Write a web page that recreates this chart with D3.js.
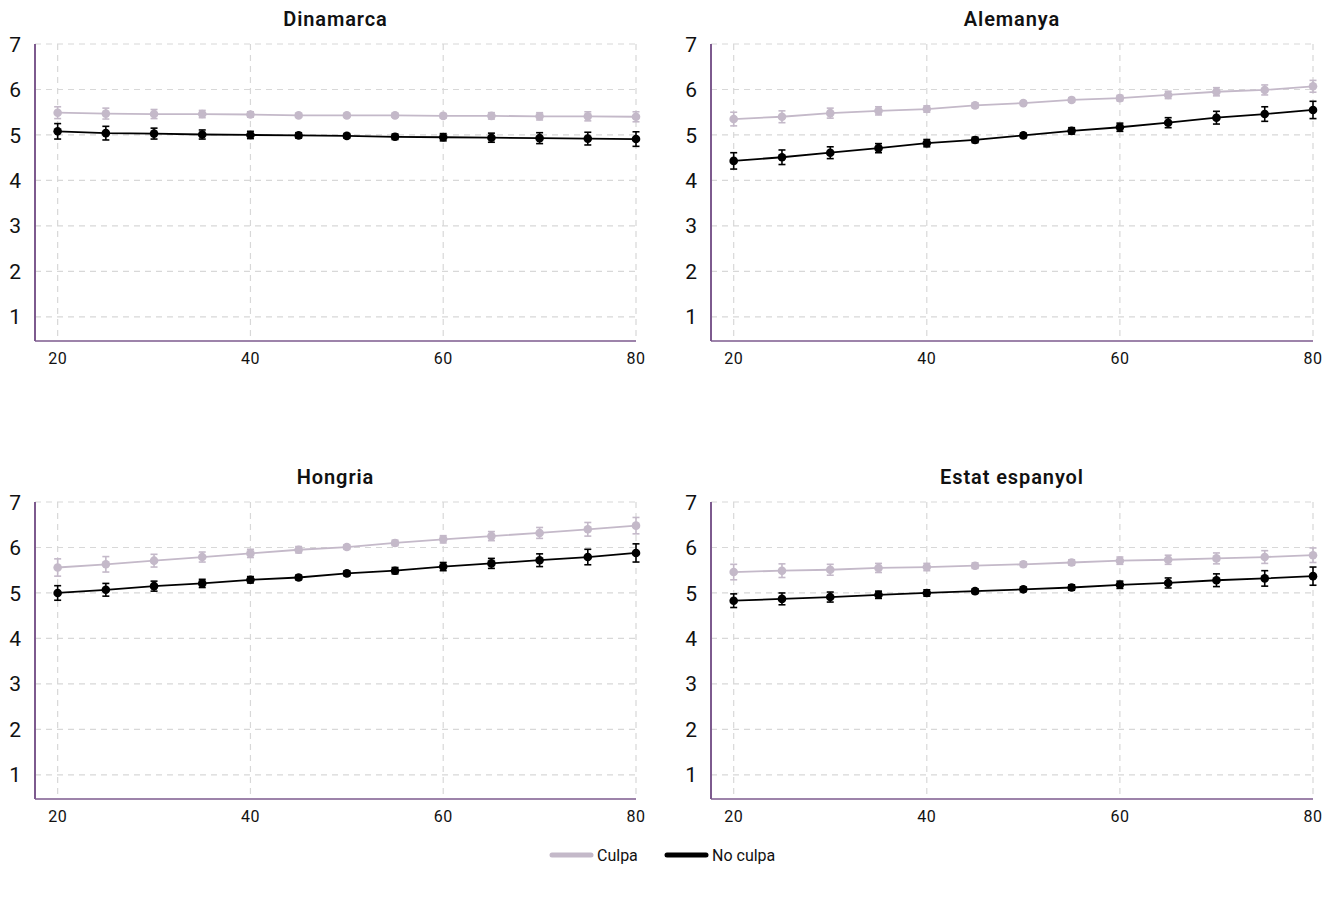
<!DOCTYPE html>
<html><head><meta charset="utf-8">
<script src="https://cdn.jsdelivr.net/npm/d3@7"></script>
<style>body{margin:0;background:#fff}svg{display:block;font-family:Roboto,"DejaVu Sans",sans-serif}</style>
</head><body><svg id="c" width="1330" height="923"></svg>
<script>
const ages = [20,25,30,35,40,45,50,55,60,65,70,75,80];
const countries = ["Dinamarca","Alemanya","Hongria","Estat espanyol"];
const seriesNames = ["Culpa","No culpa"];
const yTicks = [1,2,3,4,5,6,7];
const xTicks = [20,40,60,80];

const dinCulpa   = [5.49,5.47,5.46,5.46,5.45,5.43,5.43,5.43,5.42,5.42,5.41,5.41,5.40];
const dinNoCulpa = [5.08,5.04,5.03,5.01,5.00,4.99,4.98,4.96,4.95,4.94,4.93,4.92,4.91];
const aleCulpa   = [5.35,5.40,5.48,5.53,5.57,5.65,5.70,5.77,5.81,5.88,5.95,5.99,6.07];
const aleNoCulpa = [4.43,4.51,4.61,4.71,4.82,4.89,4.99,5.09,5.17,5.27,5.38,5.46,5.55];
const hunCulpa   = [5.56,5.63,5.71,5.79,5.87,5.95,6.01,6.10,6.18,6.25,6.32,6.40,6.48];
const hunNoCulpa = [5.00,5.07,5.15,5.21,5.29,5.34,5.43,5.49,5.58,5.65,5.72,5.79,5.88];
const espCulpa   = [5.46,5.49,5.51,5.55,5.57,5.60,5.63,5.67,5.71,5.73,5.76,5.79,5.83];
const espNoCulpa = [4.83,4.87,4.91,4.96,5.00,5.04,5.08,5.12,5.18,5.22,5.28,5.32,5.37];

const dinCulpaErr   = [0.13,0.12,0.10,0.08,0.06,0.04,0.03,0.04,0.05,0.07,0.08,0.10,0.11];
const dinNoCulpaErr = [0.17,0.15,0.12,0.10,0.08,0.06,0.05,0.06,0.08,0.10,0.12,0.14,0.16];
const aleCulpaErr   = [0.15,0.13,0.11,0.09,0.07,0.05,0.04,0.05,0.06,0.08,0.09,0.11,0.13];
const aleNoCulpaErr = [0.18,0.16,0.13,0.10,0.08,0.06,0.05,0.07,0.09,0.11,0.14,0.16,0.19];
const hunCulpaErr   = [0.19,0.17,0.14,0.11,0.09,0.07,0.05,0.06,0.08,0.10,0.12,0.15,0.18];
const hunNoCulpaErr = [0.16,0.14,0.11,0.09,0.07,0.05,0.05,0.07,0.09,0.11,0.14,0.17,0.20];
const espCulpaErr   = [0.17,0.15,0.12,0.10,0.08,0.06,0.05,0.06,0.08,0.10,0.12,0.14,0.16];
const espNoCulpaErr = [0.15,0.13,0.11,0.08,0.07,0.05,0.05,0.06,0.08,0.11,0.14,0.17,0.20];

const panelData = [
  [dinCulpa,dinNoCulpa,dinCulpaErr,dinNoCulpaErr],
  [aleCulpa,aleNoCulpa,aleCulpaErr,aleNoCulpaErr],
  [hunCulpa,hunNoCulpa,hunCulpaErr,hunNoCulpaErr],
  [espCulpa,espNoCulpa,espCulpaErr,espNoCulpaErr]
];

const colors = ["#c4b9c9","#000000"];
const axisColor = "#7d5a8e";
const gridColor = "#d8d8d8";

const svg = d3.select("#c");
const panels = [
  {x0:35, x1:636, y0:44, y1:341},
  {x0:711, x1:1313, y0:44, y1:341},
  {x0:35, x1:636, y0:502, y1:799},
  {x0:711, x1:1313, y0:502, y1:799}
];

panels.forEach((p,i)=>{
  const x = d3.scaleLinear().domain([17.65,80]).range([p.x0,p.x1]);
  const y = d3.scaleLinear().domain([0.47,7]).range([p.y1,p.y0]);
  const g = svg.append("g");

  g.selectAll(".hg").data(yTicks).join("line")
    .attr("x1",p.x0).attr("x2",x(80)).attr("y1",d=>y(d)).attr("y2",d=>y(d))
    .attr("stroke",gridColor).attr("stroke-width",1.2).attr("stroke-dasharray","6,5");
  g.selectAll(".vg").data(xTicks).join("line")
    .attr("x1",d=>x(d)).attr("x2",d=>x(d)).attr("y1",y(7)).attr("y2",p.y1)
    .attr("stroke",gridColor).attr("stroke-width",1.2).attr("stroke-dasharray","6,5");

  g.append("line").attr("x1",p.x0).attr("x2",p.x0).attr("y1",y(7)).attr("y2",p.y1)
    .attr("stroke",axisColor).attr("stroke-width",2);
  g.append("line").attr("x1",p.x0).attr("x2",x(80)).attr("y1",p.y1).attr("y2",p.y1)
    .attr("stroke",axisColor).attr("stroke-width",1.6);

  g.selectAll(".yl").data(yTicks).join("text")
    .attr("x",p.x0-14).attr("y",d=>y(d)).attr("dy","0.36em")
    .attr("text-anchor","end").attr("font-size",21).attr("fill","#111").text(d=>d);
  g.selectAll(".xl").data(xTicks).join("text")
    .attr("x",d=>x(d)).attr("y",p.y1+23)
    .attr("text-anchor","middle").attr("font-size",16).attr("letter-spacing",0.5)
    .attr("fill","#111").text(d=>d);

  g.append("text").attr("x",(p.x0+p.x1)/2).attr("y",p.y0-18)
    .attr("text-anchor","middle").attr("font-size",20).attr("font-weight",600)
    .attr("letter-spacing",0.9).attr("fill","#111").text(countries[i]);

  const [c,nc,ce,nce] = panelData[i];
  [[c,ce],[nc,nce]].forEach(([vals,errs],s)=>{
    const pts = ages.map((a,k)=>({a,v:vals[k],e:errs[k]}));
    const col = colors[s];
    g.append("path").datum(pts)
      .attr("d",d3.line().x(d=>x(d.a)).y(d=>y(d.v)))
      .attr("fill","none").attr("stroke",col).attr("stroke-width",1.8);
    const eb = g.append("g");
    eb.selectAll("line.v").data(pts).join("line")
      .attr("x1",d=>x(d.a)).attr("x2",d=>x(d.a)).attr("y1",d=>y(d.v-d.e)).attr("y2",d=>y(d.v+d.e))
      .attr("stroke",col).attr("stroke-width",1.6);
    eb.selectAll("line.t").data(pts).join("line")
      .attr("x1",d=>x(d.a)-3.5).attr("x2",d=>x(d.a)+3.5).attr("y1",d=>y(d.v+d.e)).attr("y2",d=>y(d.v+d.e))
      .attr("stroke",col).attr("stroke-width",1.6);
    eb.selectAll("line.b").data(pts).join("line")
      .attr("x1",d=>x(d.a)-3.5).attr("x2",d=>x(d.a)+3.5).attr("y1",d=>y(d.v-d.e)).attr("y2",d=>y(d.v-d.e))
      .attr("stroke",col).attr("stroke-width",1.6);
    g.selectAll(null).data(pts).join("circle")
      .attr("cx",d=>x(d.a)).attr("cy",d=>y(d.v)).attr("r",4.3).attr("fill",col);
  });
});

const leg = svg.append("g");
const legItems = [{x:552},{x:667}];
seriesNames.forEach((n,i)=>{
  const lx = legItems[i].x;
  leg.append("line").attr("x1",lx).attr("x2",lx+39).attr("y1",855).attr("y2",855)
    .attr("stroke",colors[i]).attr("stroke-width",5).attr("stroke-linecap","round");
  leg.append("text").attr("x",lx+45).attr("y",855).attr("dy","0.35em")
    .attr("font-size",16).attr("fill","#111").text(n);
});
</script></body></html>
